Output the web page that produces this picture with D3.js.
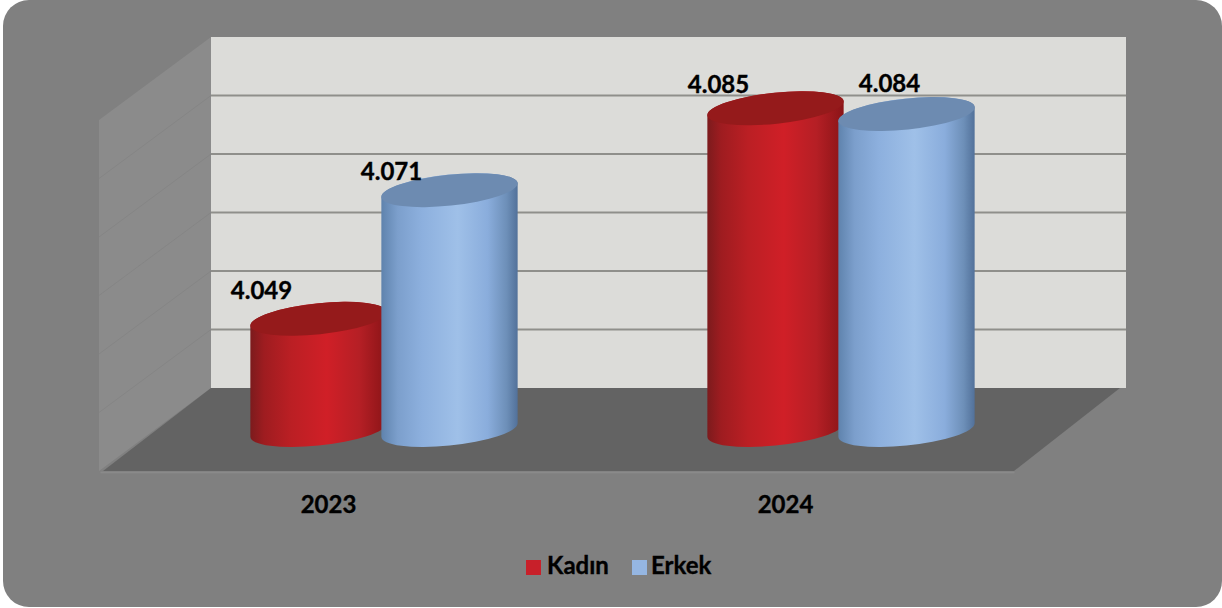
<!DOCTYPE html>
<html><head><meta charset="utf-8">
<script src="https://cdnjs.cloudflare.com/ajax/libs/d3/7.8.5/d3.min.js"></script>
<style>html,body{margin:0;padding:0;background:#fff;overflow:hidden}svg{display:block}
text{font-family:Lato,"Noto Sans",sans-serif;font-weight:700;fill:#000;stroke:#000;stroke-width:.35px}</style></head>
<body><script>
const categories = ["2023", "2024"];
const seriesNames = ["Kadın", "Erkek"];
const kadin = [4049, 4085];
const erkek = [4071, 4084];
const labelTexts = [["4.049", "4.085"], ["4.071", "4.084"]];
const gridTicks = [4030, 4040, 4050, 4060, 4070, 4080, 4090];
const seriesValues = [kadin, erkek];
const colors = ["#c8202a", "#95b6e2"];

const W = 1222, H = 608;
const wall = {x0: 211, x1: 1126, y0: 388, y1: 37};
const depth = {dx: 112, dy: 83};
const floorFront = {x0: 103, x1: 1014, y: 471};
const svg = d3.select("body").append("svg").attr("width", W).attr("height", H);

svg.append("rect").attr("x", 3).attr("y", 0).attr("width", 1219).attr("height", 607).attr("rx", 26).attr("fill", "#808080");

const y = d3.scaleLinear().domain([4030, 4090]).range([wall.y0, wall.y1]);
const x0 = d3.scaleBand().domain(categories).range([100, 1014]);
const x1 = d3.scalePoint().domain(seriesNames).range([-10, 121]);

// gradients
const defs = svg.append("defs");
function grad(id, stops) {
  const g = defs.append("linearGradient").attr("id", id);
  stops.forEach(s => g.append("stop").attr("offset", s[0]).attr("stop-color", s[1]));
}
grad("g0", [[0, "#7c1b1d"], [.1, "#9e1c20"], [.3, "#bb1f24"], [.56, "#d01f27"], [.8, "#b51f25"], [1, "#8a1417"]]);
grad("g1", [[0, "#5f83ad"], [.12, "#7c9fcc"], [.3, "#8db0de"], [.56, "#9fc0e8"], [.78, "#8aaddc"], [.92, "#6d8fb8"], [1, "#52719a"]]);

// back wall, side wall, floor
svg.append("rect").attr("x", wall.x0).attr("y", wall.y1).attr("width", wall.x1 - wall.x0).attr("height", wall.y0 - wall.y1).attr("fill", "#dcdcd9");
const line = d3.line();
svg.append("path").attr("fill", "#8b8b8b").attr("d", line([
  [wall.x0, wall.y1], [wall.x0, wall.y0], [wall.x0 - depth.dx, wall.y0 + depth.dy], [wall.x0 - depth.dx, wall.y1 + depth.dy]
]) + "Z");
svg.append("path").attr("fill", "#636363").attr("d", line([
  [wall.x0, wall.y0], [wall.x1 - 6, wall.y0], [floorFront.x1, floorFront.y], [floorFront.x0, floorFront.y]
]) + "Z");

// gridlines on both walls
const grid = svg.append("g");
gridTicks.slice(1, -1).forEach(t => {
  grid.append("line").attr("x1", wall.x0).attr("x2", wall.x1).attr("y1", y(t)).attr("y2", y(t)).attr("stroke", "#8f8f8b").attr("stroke-width", 2);
  grid.append("line").attr("x1", wall.x0).attr("x2", wall.x0 - depth.dx).attr("y1", y(t)).attr("y2", y(t) + depth.dy).attr("stroke", "#858585").attr("stroke-width", 1);
});

// category axis
const axis = d3.axisBottom(x0).tickSize(0).tickPadding(24);
const ax = svg.append("g").attr("transform", `translate(0,${floorFront.y + 1})`).call(axis);
ax.select(".domain").attr("stroke", "#8a8a8a").attr("stroke-width", 1.5);
ax.selectAll("text").attr("font-size", 24).style("font-family", 'Lato,"Noto Sans",sans-serif').style("font-weight", 700).attr("fill", "#000");

// cylinders
const R = 68.5, RY = 15.5, ROT = -6, OFF = 42;
const rad = ROT * Math.PI / 180, cs = Math.cos(rad), sn = Math.sin(rad);
const xExt = Math.sqrt(R * R * cs * cs + RY * RY * sn * sn);
const yExt = (R * R - RY * RY) * sn * cs / xExt;
const marks = [];
categories.forEach((c, ci) => seriesNames.forEach((s, si) => marks.push({c, ci, s, si, v: seriesValues[si][ci]})));
marks.sort((a, b) => a.ci - b.ci || a.si - b.si);
const g = svg.append("g");
marks.forEach(m => {
  const cx = x0(m.c) + x0.bandwidth() / 2 + x1(m.s);
  const top = y(m.v) + OFF, bot = y(gridTicks[0]) + OFF;
  const lx = cx - xExt, rx = cx + xExt, ly = -yExt, ry = yExt;
  g.append("path").attr("fill", `url(#g${m.si})`).attr("d",
    `M${lx},${top + ly}L${lx},${bot + ly}A${R},${RY} ${ROT} 0 0 ${rx},${bot + ry}L${rx},${top + ry}A${R},${RY} ${ROT} 0 0 ${lx},${top + ly}Z`);
  g.append("ellipse").attr("cx", 0).attr("cy", 0).attr("rx", R).attr("ry", RY)
    .attr("transform", `translate(${cx},${top}) rotate(${ROT})`)
    .attr("fill", m.si === 0 ? "#951a1b" : "#6d8bb1");
});

// value labels
const labelOffsets = [[[-57, -20], [-57, -15]], [[-58, -10], [-17, -22]]];
marks.forEach(m => {
  const cx = x0(m.c) + x0.bandwidth() / 2 + x1(m.s);
  const o = labelOffsets[m.si][m.ci];
  svg.append("text").attr("x", cx + o[0]).attr("y", y(m.v) + OFF + o[1]).attr("text-anchor", "middle").attr("font-size", 24).text(labelTexts[m.si][m.ci]);
});

// legend
const legendX = [526, 632];
const legendTextX = [547, 651];
seriesNames.forEach((s, i) => {
  svg.append("rect").attr("x", legendX[i]).attr("y", 560).attr("width", 15).attr("height", 15).attr("fill", colors[i]);
  svg.append("text").attr("x", legendTextX[i]).attr("y", 574).attr("font-size", 24).text(s);
});
</script></body></html>
